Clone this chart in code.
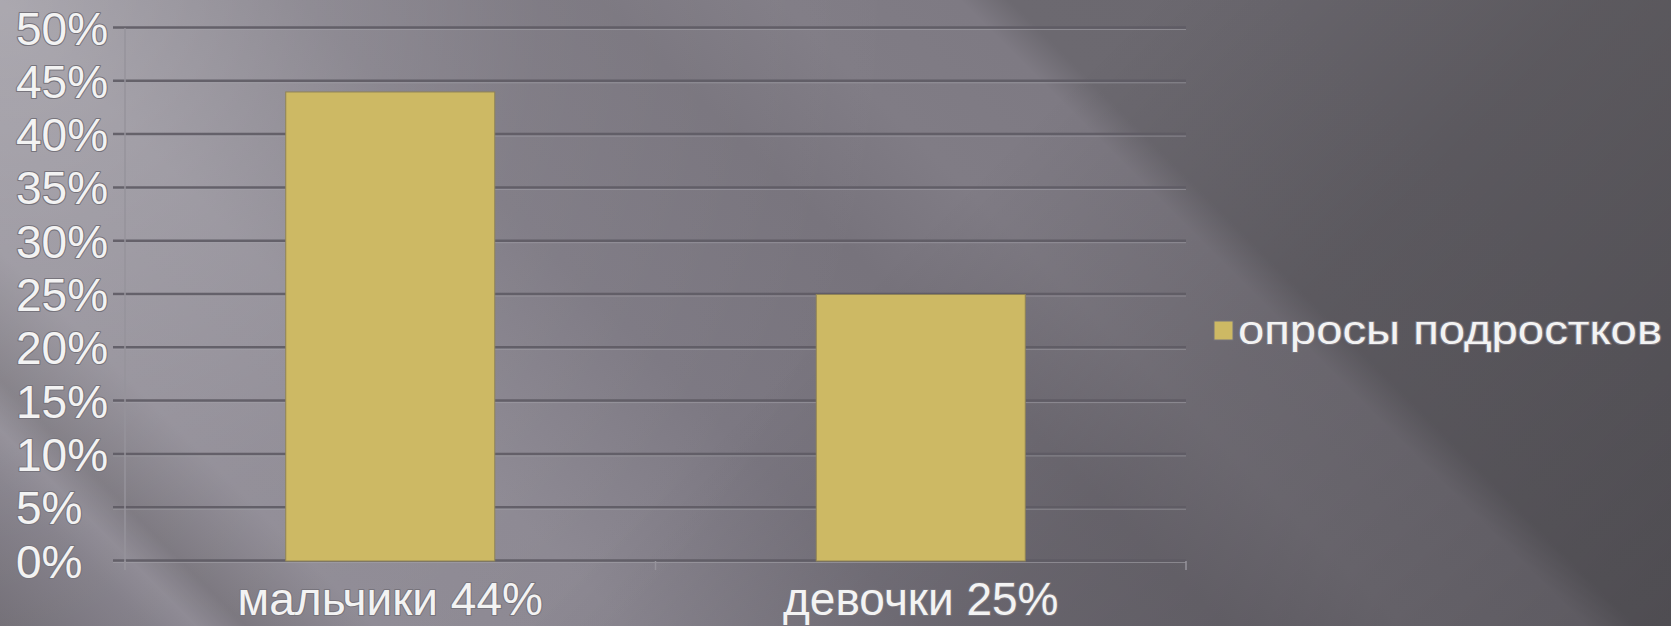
<!DOCTYPE html>
<html>
<head>
<meta charset="utf-8">
<script src="https://cdn.jsdelivr.net/npm/d3@7"></script>
<style>
  body { margin: 0; background: #5b585f; overflow: hidden; }
  text { font-family: "Liberation Sans", Arial, sans-serif; }
</style>
</head>
<body>
<script>
const WIDTH = 1671;
const HEIGHT = 626;

// data
var CATEGORIES = ["мальчики 44%", "девочки 25%"];
var VALUES = [0.44, 0.25];
var SERIES_NAME = "опросы подростков";
var Y_TICKS = [0, 0.05, 0.1, 0.15, 0.2, 0.25, 0.3, 0.35, 0.4, 0.45, 0.5];

const PLOT = { left: 125, right: 1186, top: 28, bottom: 561 };

//DEFINE xScale
var xScale = d3
  .scaleBand()
  .domain(CATEGORIES)
  .range([PLOT.left, PLOT.right])
  .paddingInner(0.606)
  .paddingOuter(0.303);

//DEFINE yScale
var yScale = d3
  .scaleLinear()
  .domain([0, 0.5])
  .range([PLOT.bottom, PLOT.top]);

var fmt = d3.format(".0%");

//Create SVG element
var svg = d3
  .select("body")
  .append("svg")
  .attr("width", WIDTH)
  .attr("height", HEIGHT);

var defs = svg.append("defs");

// diagonal light streaks, running down-right at 45deg
var bg = defs.append("linearGradient")
  .attr("id", "bg")
  .attr("gradientUnits", "userSpaceOnUse")
  .attr("x1", 0).attr("y1", 626)
  .attr("x2", 1148.5).attr("y2", -522.5);
[
  [-626, "#6e6a72"], [-480, "#7f7b85"], [-430, "#8a8690"], [-380, "#77737b"],
  [-250, "#8d8993"], [0, "#8b8791"], [300, "#7b7781"], [600, "#77737c"],
  [780, "#807c85"], [960, "#7e7a83"], [1010, "#6c6970"], [1300, "#6b686f"],
  [1671, "#6c696f"]
].forEach(function (s) {
  bg.append("stop").attr("offset", (s[0] + 626) / 2297).attr("stop-color", s[1]);
});

var glow = defs.append("radialGradient")
  .attr("id", "glow")
  .attr("gradientUnits", "userSpaceOnUse")
  .attr("cx", 0).attr("cy", 0).attr("r", 900);
glow.append("stop").attr("offset", 0).attr("stop-color", "#fff").attr("stop-opacity", 0.28);
glow.append("stop").attr("offset", 0.6).attr("stop-color", "#fff").attr("stop-opacity", 0.06);
glow.append("stop").attr("offset", 1).attr("stop-color", "#fff").attr("stop-opacity", 0);

// darkening toward the bottom-right corner
var shade = defs.append("linearGradient")
  .attr("id", "shade")
  .attr("gradientUnits", "userSpaceOnUse")
  .attr("x1", 0).attr("y1", 0).attr("x2", 1148.5).attr("y2", 1148.5);
shade.append("stop").attr("offset", 1150 / 2297).attr("stop-color", "#000").attr("stop-opacity", 0);
shade.append("stop").attr("offset", 1600 / 2297).attr("stop-color", "#000").attr("stop-opacity", 0.15);
shade.append("stop").attr("offset", 1).attr("stop-color", "#000").attr("stop-opacity", 0.27);

svg.append("rect").attr("width", WIDTH).attr("height", HEIGHT).attr("fill", "url(#bg)");
svg.append("rect").attr("width", WIDTH).attr("height", HEIGHT).attr("fill", "url(#glow)");
svg.append("rect").attr("width", WIDTH).attr("height", HEIGHT).attr("fill", "url(#shade)");

//Create gridlines (dark groove with a light edge below)
var grid = svg.append("g");
grid.selectAll("line.dark")
  .data(Y_TICKS)
  .enter()
  .append("line")
  .attr("class", "dark")
  .attr("x1", PLOT.left - 12)
  .attr("x2", PLOT.right)
  .attr("y1", (d) => yScale(d) - 0.5)
  .attr("y2", (d) => yScale(d) - 0.5)
  .attr("stroke", "#5e5b64")
  .attr("stroke-opacity", 0.9)
  .attr("stroke-width", 2.5);
grid.selectAll("line.light")
  .data(Y_TICKS)
  .enter()
  .append("line")
  .attr("class", "light")
  .attr("x1", PLOT.left - 12)
  .attr("x2", PLOT.right)
  .attr("y1", (d) => yScale(d) + 1.5)
  .attr("y2", (d) => yScale(d) + 1.5)
  .attr("stroke", "#a4a1a9")
  .attr("stroke-opacity", 0.6)
  .attr("stroke-width", 1);

//y axis line and category ticks
svg.append("line")
  .attr("x1", PLOT.left).attr("x2", PLOT.left)
  .attr("y1", PLOT.top).attr("y2", PLOT.bottom + 9)
  .attr("stroke", "#96939b").attr("stroke-width", 1.5);
svg.selectAll("line.xtick")
  .data([0, 1, 2])
  .enter()
  .append("line")
  .attr("class", "xtick")
  .attr("x1", (d) => PLOT.left + d * xScale.step())
  .attr("x2", (d) => PLOT.left + d * xScale.step())
  .attr("y1", PLOT.bottom)
  .attr("y2", PLOT.bottom + 9)
  .attr("stroke", "#96939b").attr("stroke-width", 1.5);

//Create bars
svg
  .selectAll("rect.bar")
  .data(VALUES)
  .enter()
  .append("rect")
  .attr("class", "bar")
  .attr("x", (d, i) => xScale(CATEGORIES[i]))
  .attr("y", (d) => yScale(d))
  .attr("width", xScale.bandwidth())
  .attr("height", (d) => yScale(0) - yScale(d))
  .attr("fill", "#cdb964")
  .attr("stroke", "#8f8356")
  .attr("stroke-width", 1);

function embossed(sel) {
  sel.attr("fill", "#f3f3f3")
    .attr("stroke", "#77747c")
    .attr("stroke-width", 2.2)
    .attr("paint-order", "stroke")
    .attr("stroke-linejoin", "round");
}

//y tick labels (left aligned in the original)
svg.selectAll("text.ytick")
  .data(Y_TICKS)
  .enter()
  .append("text")
  .attr("class", "ytick")
  .text((d) => fmt(d))
  .attr("x", 16)
  .attr("y", (d) => yScale(d))
  .attr("dy", "0.36em")
  .attr("font-size", "46px")
  .call(embossed);

//category labels
svg.selectAll("text.cat")
  .data(CATEGORIES)
  .enter()
  .append("text")
  .attr("class", "cat")
  .text((d) => d)
  .attr("text-anchor", "middle")
  .attr("x", (d) => xScale(d) + xScale.bandwidth() / 2)
  .attr("y", 615)
  .attr("font-size", "46px")
  .call(embossed);

//legend
var legend = svg.append("g");
legend.append("rect")
  .attr("x", 1214).attr("y", 321)
  .attr("width", 19).attr("height", 19)
  .attr("fill", "#cdb964")
  .attr("stroke", "#77747c").attr("stroke-width", 1);
legend.append("text")
  .text(SERIES_NAME)
  .attr("x", 1238)
  .attr("y", 344)
  .attr("font-size", "41px")
  .attr("textLength", 424)
  .attr("lengthAdjust", "spacingAndGlyphs")
  .call(embossed);
</script>
</body>
</html>
